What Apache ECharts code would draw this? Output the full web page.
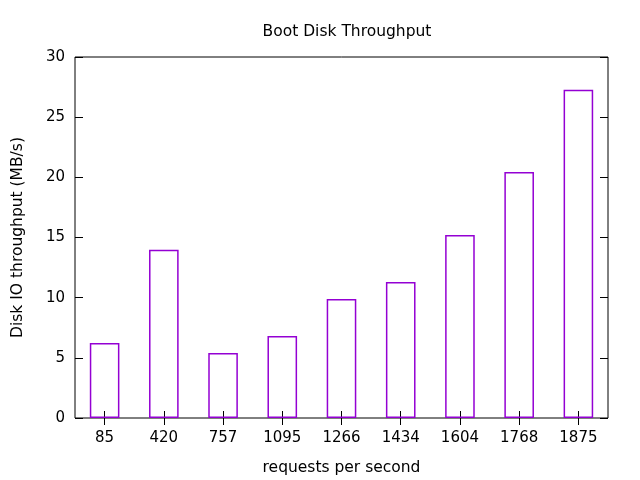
<!DOCTYPE html>
<html>
<head>
<meta charset="utf-8">
<script src="https://cdn.jsdelivr.net/npm/echarts@6/dist/echarts.min.js"></script>
<style>html,body{margin:0;padding:0;background:#fff}#c{width:640px;height:480px}</style>
</head>
<body>
<div id="c"></div>
<script>
var categories = ['85','420','757','1095','1266','1434','1604','1768','1875'];
var throughput = [6.23, 13.98, 5.4, 6.81, 9.89, 11.3, 15.21, 20.44, 27.27];
var yTicks = [0, 5, 10, 15, 20, 25, 30];

var chart = echarts.init(document.getElementById('c'), null, {renderer:'canvas'});
var font = 'DejaVu Sans, sans-serif';
chart.setOption({
  backgroundColor: '#fff',
  animation: false,
  title: {
    text: 'Boot Disk Throughput', left: 342, top: 19, textAlign: 'center',
    textStyle: {fontFamily: font, fontSize: 15.5, fontWeight: 'normal', color: '#000'}
  },
  grid: {left: 75, right: 32, top: 57, bottom: 62, show: true, borderColor: '#000', borderWidth: 1,
         backgroundColor: 'transparent', containLabel: false, outerBoundsMode: 'none'},
  xAxis: [{
    type: 'category', data: categories, position: 'bottom',
    name: 'requests per second', nameLocation: 'middle', nameGap: 42,
    nameTextStyle: {fontFamily: font, fontSize: 15.5, color: '#000'},
    axisLine: {show: false},
    axisTick: {show: true, inside: true, length: 7, alignWithLabel: true, lineStyle: {color: '#000'}},
    axisLabel: {fontFamily: font, fontSize: 15, color: '#000', margin: 13},
    splitLine: {show: false}
  }, {
    type: 'category', data: categories, position: 'top',
    axisLine: {show: false},
    axisTick: {show: true, inside: true, length: 7, alignWithLabel: true, lineStyle: {color: '#000'}},
    axisLabel: {show: false}, splitLine: {show: false}
  }],
  yAxis: [{
    type: 'value', min: 0, max: 30, interval: 5, position: 'left',
    name: 'Disk IO throughput (MB/s)', nameLocation: 'middle', nameGap: 49, nameRotate: 90,
    nameTextStyle: {fontFamily: font, fontSize: 15.5, color: '#000'},
    axisLine: {show: false},
    axisTick: {show: true, inside: true, length: 8, lineStyle: {color: '#000'}},
    axisLabel: {fontFamily: font, fontSize: 15, color: '#000', margin: 10},
    splitLine: {show: false}
  }, {
    type: 'value', min: 0, max: 30, interval: 5, position: 'right',
    axisLine: {show: false},
    axisTick: {show: true, inside: true, length: 8, lineStyle: {color: '#000'}},
    axisLabel: {show: false}, splitLine: {show: false}
  }],
  series: [{
    type: 'bar', data: throughput, xAxisIndex: 0, yAxisIndex: 0,
    barWidth: '50%',
    itemStyle: {color: 'rgba(255,255,255,0)', borderColor: '#9400d3', borderWidth: 1.5}
  }]
});
</script>
</body>
</html>
